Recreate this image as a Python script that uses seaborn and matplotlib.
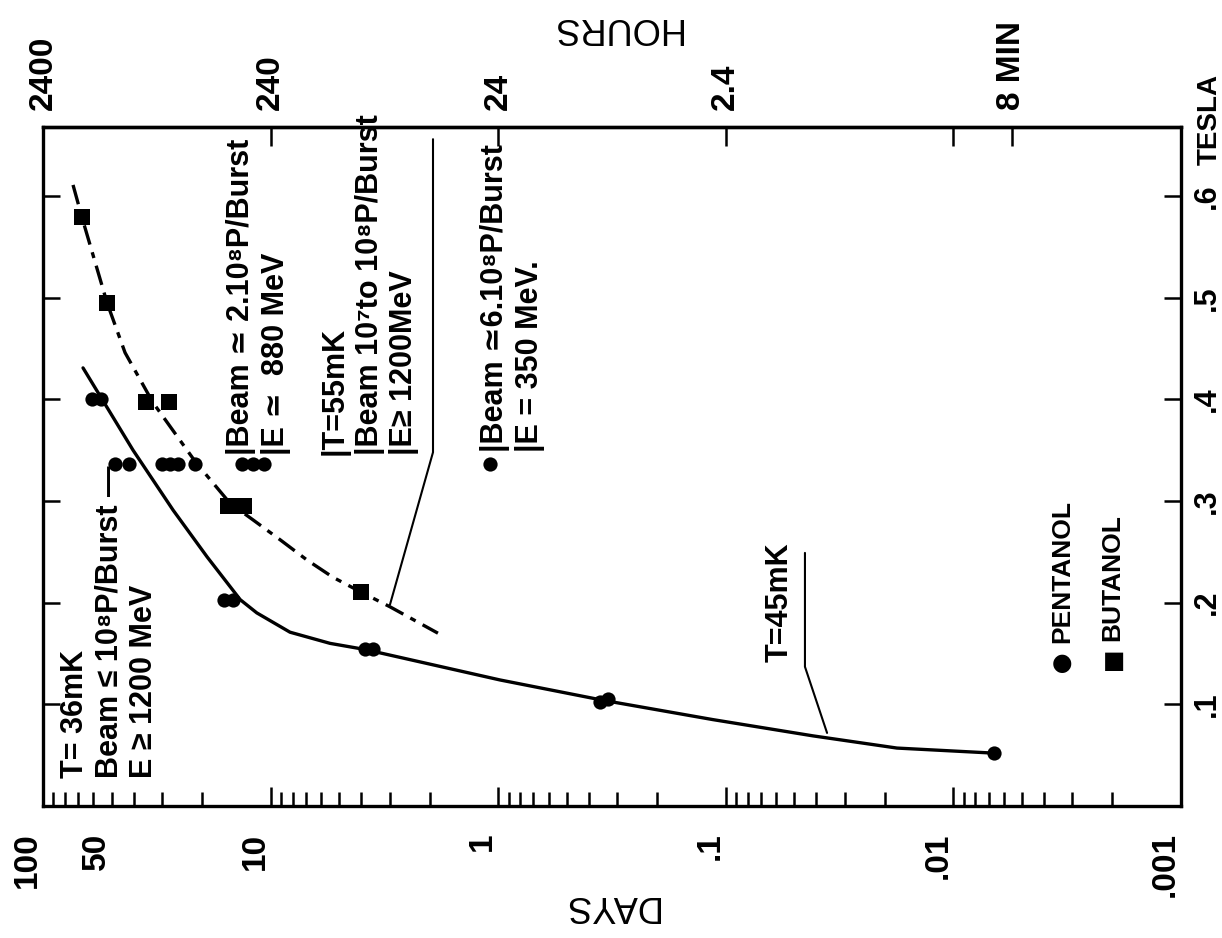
import numpy as np
import pandas as pd
import matplotlib
matplotlib.use("Agg")
import matplotlib.pyplot as plt
import seaborn as sns
from matplotlib.ticker import LogLocator, FuncFormatter, NullLocator

# ---------------- data ----------------
# x = time (days, log scale), y = magnetic field (Tesla)
pentanol_days = [60.9, 55.6, 48.3, 41.9, 30.0, 27.7, 25.5, 21.5, 13.4, 11.95, 10.7,
                 1.09, 16.0, 14.6, 3.85, 3.55, 0.357, 0.329, 0.00663]
pentanol_tesla = [0.400, 0.400, 0.336, 0.336, 0.336, 0.336, 0.336, 0.336, 0.336, 0.336, 0.336,
                  0.336, 0.203, 0.203, 0.154, 0.154, 0.102, 0.105, 0.052]

butanol_days = [67.4, 52.3, 35.3, 27.9, 15.4, 13.1, 4.01]
butanol_tesla = [0.579, 0.495, 0.397, 0.397, 0.295, 0.295, 0.211]

# hand-drawn curves
curve55_days = [73.8, 67.4, 52.3, 43.6, 32.9, 21.3, 15.1, 11.95, 9.09, 6.92, 5.32, 4.05, 2.99, 1.84]
curve55_tesla = [0.611, 0.579, 0.495, 0.446, 0.397, 0.338, 0.298, 0.2815, 0.262, 0.242, 0.225,
                 0.211, 0.196, 0.170]

curve45_days = [66.7, 40.2, 26.8, 19.0, 13.6, 11.5, 8.22, 5.48, 3.85, 0.982, 0.346, 0.114,
                0.0414, 0.0177, 0.00663]
curve45_tesla = [0.431, 0.350, 0.291, 0.245, 0.203, 0.190, 0.171, 0.160, 0.154, 0.124, 0.104,
                 0.085, 0.069, 0.057, 0.052]

# annotation leader lines (days, tesla)
leader55_days = [1.934, 1.934, 2.99]
leader55_tesla = [0.656, 0.348, 0.198]
leader45_days = [0.0449, 0.0449, 0.0359]
leader45_tesla = [0.249, 0.137, 0.0719]

day_ticks = [100, 10, 1, 0.1, 0.01, 0.001]
day_labels = ["100", "10", "1", ".1", ".01", ".001"]
hour_ticks = [2400, 240, 24, 2.4, 0.24, 8 / 60]
hour_labels = ["2400", "240", "24", "2.4", "", "8 MIN"]
tesla_ticks = [0.1, 0.2, 0.3, 0.4, 0.5, 0.6]
tesla_labels = [".1", ".2", ".3", ".4", ".5", ".6"]

# ---------------- styling ----------------
sns.set_theme(style="white")
plt.rcParams["font.family"] = ["Liberation Sans", "DejaVu Sans"]
plt.rcParams["font.weight"] = "bold"
plt.rcParams["axes.linewidth"] = 2.4
plt.rcParams["axes.edgecolor"] = "black"
plt.rcParams["text.color"] = "black"
plt.rcParams["xtick.color"] = "black"
plt.rcParams["ytick.color"] = "black"

W, H = 1222, 938
fig = plt.figure(figsize=(W / 100, H / 100), dpi=100)
fig.patch.set_facecolor("white")


def fpos(x, y):
    return (x / W, 1 - y / H)


ax = fig.add_axes([43 / W, 1 - 806 / H, (1181 - 43) / W, (806 - 127) / H])
ax.set_xscale("log")

pent = pd.DataFrame({"days": pentanol_days, "tesla": pentanol_tesla})
buta = pd.DataFrame({"days": butanol_days, "tesla": butanol_tesla})
c45 = pd.DataFrame({"days": curve45_days, "tesla": curve45_tesla})
c55 = pd.DataFrame({"days": curve55_days, "tesla": curve55_tesla})

sns.lineplot(data=c45, x="days", y="tesla", sort=False, estimator=None, color="black",
             linewidth=2.4, ax=ax)
sns.lineplot(data=c55, x="days", y="tesla", sort=False, estimator=None, color="black",
             linewidth=2.4, linestyle=(0, (6, 2.4, 1.8, 2.4)), ax=ax)
sns.scatterplot(data=pent, x="days", y="tesla", marker="o", s=105, color="black",
                linewidth=0, ax=ax, zorder=3)
sns.scatterplot(data=buta, x="days", y="tesla", marker="s", s=125, color="black",
                linewidth=0, ax=ax, zorder=3)

ax.plot(leader55_days, leader55_tesla, color="black", lw=1.5)
ax.plot(leader45_days, leader45_tesla, color="black", lw=1.5)

ax.set_xlim(100, 0.001)
ax.set_ylim(0, 0.668)
ax.set_xlabel("")
ax.set_ylabel("")

# bottom axis: days
ax.set_xticks(day_ticks, labels=day_labels)
ax.xaxis.set_minor_locator(LogLocator(base=10, subs=np.arange(2, 10), numticks=100))
ax.xaxis.set_minor_formatter(FuncFormatter(lambda v, p: "50" if abs(v - 50) < 1e-6 else ""))
ax.tick_params(axis="x", which="both", direction="in", bottom=True, top=False,
               labelbottom=True, labeltop=False, labelrotation=90, labelsize=24,
               pad=19, width=1.8)
ax.tick_params(axis="x", which="major", length=14)
ax.tick_params(axis="x", which="minor", length=10)
plt.setp(ax.get_xticklabels(which="both"), ha="right")

# left/right axis: tesla
ax.set_yticks(tesla_ticks, labels=tesla_labels)
ax.tick_params(axis="y", which="major", direction="in", left=True, right=True,
               labelleft=False, labelright=True, length=12, width=1.8, labelsize=22,
               labelrotation=90, pad=8)
for t in ax.yaxis.get_major_ticks():
    t.label2.set_va("center")

# top axis: hours
sec = ax.secondary_xaxis("top", functions=(lambda d: d * 24, lambda h: h / 24))
sec.set_xticks(hour_ticks, labels=hour_labels)
sec.xaxis.set_minor_locator(NullLocator())
sec.tick_params(axis="x", which="major", direction="in", length=14, width=1.8,
                labelsize=24, labelrotation=90, pad=12)

# axis titles
fig.text(*fpos(616, 28), "HOURS", rotation=180, ha="center", va="center",
         fontsize=26, fontweight="normal")
fig.text(*fpos(610, 905), "DAYS", rotation=180, ha="center", va="center",
         fontsize=26, fontweight="normal")
fig.text(*fpos(1197, 165), "TESLA", rotation=90, ha="left", va="bottom", fontsize=20)

# annotations
tk = dict(rotation=90, ha="left", va="bottom", multialignment="left", fontsize=22,
          linespacing=1.2)
fig.text(*fpos(60, 778), "T= 36mK\nBeam \u2264 10\u2078P/Burst \u2014\nE \u2265 1200 MeV", **tk)
fig.text(*fpos(226, 455), "|Beam \u2243 2.10\u2078P/Burst\n|E \u2243  880 MeV", **tk)
fig.text(*fpos(320, 455), "|T=55mK\n|Beam 10\u2077to 10\u2078P/Burst\n|E\u2265 1200MeV", **tk)
fig.text(*fpos(480, 452), "|Beam \u22436.10\u2078P/Burst\n|E = 350 MeV.", **tk)
fig.text(*fpos(765, 662), "T=45mK", **tk)

# legend (symbols + rotated names)
fig.text(*fpos(1062, 663), "\u25cf", ha="center", va="center", fontsize=17,
         family="DejaVu Sans")
fig.text(*fpos(1114, 661), "\u25a0", ha="center", va="center", fontsize=17,
         family="DejaVu Sans")
fig.text(*fpos(1062, 643), "PENTANOL", rotation=90, ha="center", va="bottom", fontsize=19)
fig.text(*fpos(1112, 641), "BUTANOL", rotation=90, ha="center", va="bottom", fontsize=19)

fig.savefig("out.png", dpi=100, facecolor="white")
